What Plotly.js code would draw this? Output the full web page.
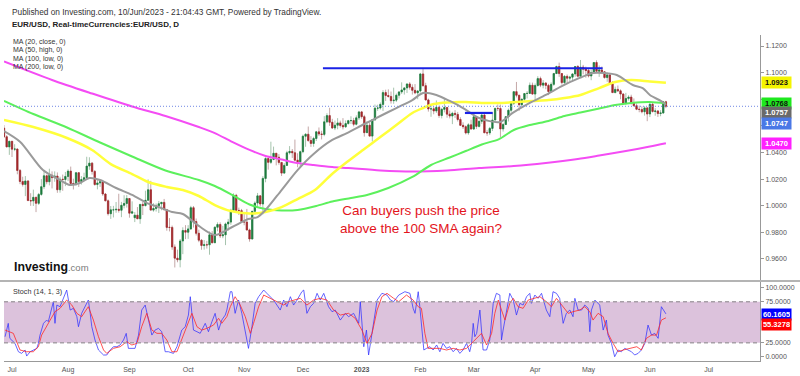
<!DOCTYPE html>
<html><head><meta charset="utf-8">
<script src="https://cdn.plot.ly/plotly-3.0.1.min.js"></script>
<style>html,body{margin:0;padding:0;background:#fff;}#chart{width:800px;height:376px;}</style>
</head><body><div id="chart"></div>
<script>
// trading-day index: 0 = 1 Jul 2022, 239 = 1 Jun 2023, 245 = 9 Jun 2023
const firstIdx = -3;
const openP = [1.0583,1.0518,1.0442,
1.0484,1.0425,1.0426,1.0265,1.0182,1.0160,1.0186,1.0039,1.0036,1.0063,
1.0018,1.0085,1.0143,1.0225,1.0180,1.0229,1.0211,1.0223,1.0120,1.0199,
1.0197,1.0220,1.0260,1.0167,1.0163,1.0248,1.0182,1.0197,1.0211,1.0298,
1.0320,1.0258,1.0159,1.0171,1.0180,1.0088,1.0037,0.9940,0.9969,0.9969,
0.9973,0.9966,1.0003,1.0017,1.0054,0.9944,0.9910,0.9929,0.9902,1.0010,
1.0001,1.0041,1.0120,0.9967,0.9979,0.9999,1.0015,1.0025,0.9970,0.9837,
0.9837,0.9690,0.9606,0.9594,0.9735,0.9814,0.9801,0.9826,0.9985,0.9881,
0.9793,0.9741,0.9701,0.9707,0.9706,0.9781,0.9722,0.9838,0.9859,0.9774,
0.9781,0.9863,0.9877,0.9965,1.0078,0.9965,0.9963,0.9882,0.9877,0.9818,
0.9750,0.9958,1.0020,1.0074,1.0013,1.0205,1.0354,1.0326,1.0348,1.0394,
1.0364,1.0325,1.0245,1.0303,1.0398,1.0408,1.0398,1.0342,1.0330,1.0406,
1.0522,1.0537,1.0490,1.0468,1.0505,1.0555,1.0539,1.0536,1.0630,1.0677,
1.0627,1.0584,1.0605,1.0622,1.0603,1.0593,1.0617,1.0639,1.0640,1.0612,
1.0660,1.0705,1.0669,1.0549,1.0605,1.0523,1.0645,1.0733,1.0734,1.0761,
1.0850,1.0828,1.0821,1.0789,1.0793,1.0830,1.0855,1.0870,1.0885,1.0915,
1.0890,1.0867,1.0848,1.0862,1.0990,1.0902,1.0795,1.0727,1.0728,1.0712,
1.0739,1.0678,1.0724,1.0738,1.0688,1.0674,1.0694,1.0686,1.0648,1.0604,
1.0594,1.0547,1.0608,1.0576,1.0668,1.0596,1.0634,1.0681,1.0548,1.0547,
1.0581,1.0644,1.0731,1.0730,1.0577,1.0610,1.0669,1.0717,1.0770,1.0857,
1.0830,1.0759,1.0800,1.0843,1.0844,1.0905,1.0839,1.0903,1.0955,1.0906,
1.0922,1.0904,1.0858,1.0912,1.0993,1.1046,1.0993,1.0925,1.0972,1.0958,
1.0966,1.0990,1.1046,1.0973,1.1041,1.1026,1.1016,1.0975,1.1000,1.1076,
1.1010,1.1020,1.1006,1.0963,1.0983,1.0915,1.0850,1.0874,1.0863,1.0839,
1.0768,1.0806,1.0816,1.0774,1.0751,1.0725,1.0723,1.0706,1.0735,1.0689,
1.0762,1.0708,1.0712,1.0693,1.0697,1.0781];
const highP = [1.0606,1.0530,1.0488,
1.0486,1.0462,1.0429,1.0276,1.0218,1.0223,1.0192,1.0094,1.0121,1.0068,
1.0096,1.0200,1.0269,1.0234,1.0278,1.0258,1.0258,1.0250,1.0218,1.0234,
1.0254,1.0274,1.0294,1.0203,1.0254,1.0253,1.0223,1.0248,1.0368,1.0364,
1.0328,1.0267,1.0202,1.0201,1.0191,1.0096,1.0047,0.9998,0.9999,1.0028,
1.0090,1.0029,1.0079,1.0080,1.0056,1.0033,0.9952,0.9990,1.0011,1.0030,
1.0113,1.0198,1.0187,1.0019,1.0017,1.0036,1.0029,1.0051,0.9976,0.9907,
0.9851,0.9709,0.9670,0.9750,0.9838,0.9854,0.9854,0.9999,0.9998,0.9904,
0.9820,0.9749,0.9742,0.9736,0.9807,0.9809,0.9846,0.9875,0.9875,0.9849,
0.9873,0.9901,0.9977,1.0093,1.0089,0.9986,0.9976,0.9953,0.9976,0.9828,
0.9960,1.0033,1.0096,1.0080,1.0222,1.0364,1.0361,1.0481,1.0444,1.0396,
1.0388,1.0329,1.0320,1.0413,1.0448,1.0426,1.0497,1.0394,1.0414,1.0534,
1.0545,1.0595,1.0523,1.0518,1.0562,1.0588,1.0563,1.0673,1.0695,1.0736,
1.0653,1.0640,1.0658,1.0639,1.0658,1.0641,1.0645,1.0672,1.0660,1.0679,
1.0713,1.0712,1.0683,1.0634,1.0626,1.0651,1.0760,1.0759,1.0776,1.0868,
1.0872,1.0874,1.0858,1.0887,1.0843,1.0860,1.0927,1.0890,1.0916,1.0929,
1.0912,1.0914,1.0869,1.0998,1.1033,1.0924,1.0805,1.0753,1.0745,1.0791,
1.0752,1.0735,1.0804,1.0741,1.0715,1.0706,1.0718,1.0705,1.0665,1.0627,
1.0603,1.0620,1.0646,1.0691,1.0670,1.0642,1.0694,1.0695,1.0568,1.0592,
1.0702,1.0736,1.0760,1.0760,1.0622,1.0670,1.0730,1.0786,1.0857,1.0930,
1.0833,1.0805,1.0847,1.0861,1.0926,1.0925,1.0918,1.0973,1.0970,1.0944,
1.0928,1.0916,1.0927,1.0998,1.1052,1.1075,1.0995,1.0982,1.0986,1.0976,
1.0994,1.1050,1.1057,1.1095,1.1058,1.1045,1.1032,1.1022,1.1076,1.1092,
1.1054,1.1046,1.1009,1.1000,1.0990,1.0936,1.0895,1.0903,1.0874,1.0846,
1.0848,1.0830,1.0834,1.0806,1.0768,1.0752,1.0746,1.0747,1.0741,1.0779,
1.0779,1.0733,1.0718,1.0718,1.0787,1.0788];
const lowP = [1.0510,1.0440,1.0382,
1.0366,1.0410,1.0236,1.0162,1.0144,1.0072,1.0034,0.9999,0.9998,0.9952,
1.0006,1.0075,1.0125,1.0161,1.0153,1.0130,1.0180,1.0097,1.0098,1.0112,
1.0147,1.0185,1.0160,1.0122,1.0150,1.0141,1.0159,1.0185,1.0198,1.0270,
1.0234,1.0151,1.0123,1.0141,1.0074,1.0034,0.9926,0.9901,0.9912,0.9947,
0.9948,0.9914,0.9980,0.9986,0.9910,0.9942,0.9877,0.9900,0.9864,0.9930,
0.9995,1.0035,0.9966,0.9955,0.9956,0.9945,0.9966,0.9966,0.9812,0.9807,
0.9669,0.9536,0.9575,0.9537,0.9636,0.9749,0.9751,0.9818,0.9836,0.9776,
0.9726,0.9669,0.9670,0.9678,0.9632,0.9717,0.9720,0.9808,0.9758,0.9756,
0.9704,0.9812,0.9857,0.9962,0.9952,0.9930,0.9870,0.9853,0.9813,0.9730,
0.9747,0.9934,0.9996,0.9994,0.9935,1.0176,1.0271,1.0314,1.0342,1.0303,
1.0308,1.0223,1.0240,1.0300,1.0385,1.0359,1.0339,1.0289,1.0290,1.0394,
1.0443,1.0480,1.0442,1.0443,1.0486,1.0524,1.0498,1.0522,1.0620,1.0600,
1.0576,1.0568,1.0574,1.0587,1.0573,1.0585,1.0610,1.0614,1.0596,1.0604,
1.0644,1.0653,1.0519,1.0546,1.0522,1.0483,1.0638,1.0713,1.0722,1.0712,
1.0787,1.0812,1.0767,1.0766,1.0779,1.0806,1.0840,1.0835,1.0847,1.0872,
1.0835,1.0838,1.0800,1.0850,1.0895,1.0791,1.0707,1.0668,1.0687,1.0697,
1.0660,1.0656,1.0701,1.0661,1.0656,1.0613,1.0660,1.0633,1.0600,1.0577,
1.0536,1.0533,1.0575,1.0570,1.0577,1.0588,1.0615,1.0547,1.0525,1.0531,
1.0561,1.0640,1.0711,1.0516,1.0557,1.0609,1.0633,1.0700,1.0757,1.0814,
1.0713,1.0745,1.0788,1.0806,1.0842,1.0835,1.0788,1.0895,1.0891,1.0882,
1.0875,1.0831,1.0849,1.0901,1.0992,1.0968,1.0910,1.0909,1.0914,1.0934,
1.0935,1.0969,1.0964,1.0965,1.0987,1.0962,1.0964,1.0943,1.0989,1.1003,
1.0968,1.0995,1.0955,1.0931,1.0908,1.0847,1.0845,1.0854,1.0800,1.0760,
1.0760,1.0790,1.0760,1.0747,1.0718,1.0702,1.0694,1.0677,1.0635,1.0666,
1.0700,1.0676,1.0667,1.0672,1.0690,1.0733];
const closeP = [1.0518,1.0442,1.0484,
1.0425,1.0426,1.0265,1.0182,1.0160,1.0186,1.0039,1.0036,1.0063,1.0018,
1.0085,1.0143,1.0225,1.0180,1.0229,1.0211,1.0223,1.0120,1.0199,1.0197,
1.0220,1.0260,1.0167,1.0163,1.0248,1.0182,1.0197,1.0211,1.0298,1.0320,
1.0258,1.0159,1.0171,1.0180,1.0088,1.0037,0.9940,0.9969,0.9969,0.9973,
0.9966,1.0003,1.0017,1.0054,0.9944,0.9954,0.9929,0.9902,1.0010,1.0001,
1.0041,1.0120,0.9967,0.9979,0.9999,1.0015,1.0025,0.9970,0.9837,0.9837,
0.9690,0.9606,0.9594,0.9735,0.9814,0.9801,0.9826,0.9985,0.9881,0.9793,
0.9741,0.9701,0.9707,0.9706,0.9781,0.9722,0.9838,0.9859,0.9774,0.9781,
0.9863,0.9877,0.9965,1.0078,0.9965,0.9963,0.9882,0.9877,0.9818,0.9750,
0.9958,1.0020,1.0074,1.0013,1.0205,1.0354,1.0326,1.0348,1.0394,1.0364,
1.0325,1.0245,1.0303,1.0398,1.0408,1.0398,1.0342,1.0330,1.0406,1.0522,
1.0537,1.0490,1.0468,1.0505,1.0555,1.0539,1.0536,1.0630,1.0677,1.0627,
1.0584,1.0605,1.0622,1.0603,1.0593,1.0617,1.0639,1.0640,1.0612,1.0660,
1.0705,1.0669,1.0549,1.0605,1.0523,1.0645,1.0733,1.0734,1.0761,1.0850,
1.0828,1.0821,1.0789,1.0793,1.0830,1.0855,1.0870,1.0885,1.0915,1.0890,
1.0867,1.0848,1.0862,1.0990,1.0902,1.0795,1.0727,1.0728,1.0712,1.0739,
1.0678,1.0724,1.0738,1.0688,1.0674,1.0694,1.0686,1.0648,1.0604,1.0594,
1.0547,1.0608,1.0576,1.0668,1.0596,1.0634,1.0681,1.0548,1.0547,1.0581,
1.0644,1.0731,1.0730,1.0577,1.0610,1.0669,1.0717,1.0770,1.0857,1.0830,
1.0759,1.0800,1.0843,1.0844,1.0905,1.0839,1.0903,1.0955,1.0906,1.0922,
1.0904,1.0858,1.0912,1.0993,1.1046,1.0993,1.0925,1.0972,1.0958,1.0966,
1.0990,1.1046,1.0973,1.1041,1.1026,1.1016,1.0975,1.1000,1.1076,1.1010,
1.1020,1.1006,1.0963,1.0983,1.0915,1.0850,1.0874,1.0863,1.0839,1.0768,
1.0806,1.0816,1.0774,1.0751,1.0725,1.0723,1.0706,1.0735,1.0689,1.0762,
1.0708,1.0712,1.0693,1.0697,1.0781,1.0747];

// moving averages (trading-day index, value)
const ma20Idx = [-3,3,11.6,18,21.7,25.5,29,33,39,45,50.6,55,60,64,70,76,82.5,88.5,92,95,101,107,113,120,125.5,132,138,144,150,154,159,164,169,175,182.8,187.6,194,200,206,212.7,217.6,222,226.6,232.6,236.3,239,243.8,245];
const ma20 = [1.0561,1.0481,1.0268,1.0193,1.0156,1.0171,1.0208,1.0193,1.0133,1.0081,1.0020,0.9990,0.9953,0.9938,0.9848,0.9780,0.9840,0.9900,0.9915,0.9968,1.0118,1.0268,1.0389,1.0494,1.0546,1.0614,1.0674,1.0734,1.0794,1.0847,1.0832,1.0787,1.0734,1.0659,1.0629,1.0697,1.0772,1.0832,1.0899,1.0960,1.0997,1.0997,1.0982,1.0907,1.0884,1.0832,1.0779,1.0757];
const ma50Idx = [-3,8,20.6,30,37,45,51,58,64,70,76,82,89,95,101,107,113.5,119.5,125.5,131.5,138,144.5,150,154,158,163,170,176,182,189,195,201,207,213,220,226,232,239,245];
const ma50 = [1.0644,1.0591,1.0509,1.0419,1.0313,1.0238,1.0178,1.0141,1.0118,1.0073,1.0005,0.9960,0.9942,0.9953,0.9990,1.0050,1.0118,1.0231,1.0328,1.0419,1.0516,1.0614,1.0697,1.0734,1.0764,1.0776,1.0779,1.0772,1.0772,1.0779,1.0787,1.0794,1.0809,1.0832,1.0884,1.0930,1.0945,1.0933,1.0923];
const ma100Idx = [-3,8,20.6,33,45,57.5,70,76,82.5,89,95,101,107,114,120,127,133,141,150,157,164,170,176,182.5,188,194,201,207,213,220,226,232,239,245];
const ma100 = [1.0788,1.0689,1.0588,1.0475,1.0370,1.0265,1.0193,1.0148,1.0081,1.0009,0.9975,0.9964,0.9968,0.9998,1.0032,1.0058,1.0081,1.0133,1.0216,1.0306,1.0362,1.0411,1.0460,1.0501,1.0569,1.0606,1.0637,1.0674,1.0700,1.0730,1.0757,1.0772,1.0779,1.0768];
const ma200Idx = [-3,15,30,45,57.5,70,76,82.5,89,95,101,107,113,120,126,138,150,163,175,188,200,212,220,230,239,245];
const ma200 = [1.1084,1.0945,1.0843,1.0745,1.0674,1.0591,1.0546,1.0479,1.0419,1.0374,1.0347,1.0321,1.0306,1.0291,1.0283,1.0265,1.0257,1.0265,1.0283,1.0298,1.0321,1.0351,1.0377,1.0411,1.0445,1.0470];

// drawn horizontal levels
const resX = [116.5, 221.3], resY = [1.1033, 1.1033];
const supX = [169.7, 180.1], supY = [1.0697, 1.0697];

// Stochastic (14,1,3)
const kIdx = [-2.6,-1.4,-0.8,1.1,2.4,3.6,4.9,5.5,6.8,8.0,
9.3,9.9,10.5,11.8,13.0,13.6,14.3,15.5,16.1,16.8,
18.0,19.3,20.5,21.8,23.0,24.3,24.9,26.1,27.4,28.6,
29.3,29.9,31.1,32.4,34.3,35.5,36.8,38.0,39.3,40.5,
41.8,42.8,43.6,44.9,46.1,47.4,48.6,49.9,51.1,52.4,
53.6,54.9,56.1,57.4,58.6,60.5,61.8,63.6,64.9,66.1,
66.8,68.0,69.3,70.5,72.4,73.6,74.9,76.1,77.4,78.6,
79.9,80.5,81.8,82.4,83.6,84.9,86.1,87.4,88.6,89.9,
91.1,92.4,94.3,95.5,96.8,98.0,100.5,101.8,103.0,104.3,
105.5,106.8,108.6,109.3,110.5,111.8,113.0,114.3,115.5,116.8,
118.6,119.9,121.1,123.0,124.9,126.1,128.0,129.9,130.5,131.8,
132.8,133.6,134.3,135.5,136.8,138.6,140.5,141.8,143.0,144.9,
147.2,149.1,150.3,151.0,152.2,152.8,153.4,154.3,155.3,156.6,
157.8,159.1,160.3,161.5,162.8,164.0,165.3,166.5,167.8,169.0,
170.3,171.5,172.2,172.8,173.4,174.1,175.3,175.9,176.5,177.8,
179.0,180.3,181.5,182.8,183.4,184.0,185.3,186.5,187.8,189.0,
190.3,191.5,192.8,194.0,194.6,195.9,197.1,198.4,200.2,201.5,
202.7,204.0,205.2,206.5,207.7,209.0,210.2,210.9,212.1,213.4,
214.6,215.9,216.5,217.1,218.4,220.2,221.5,222.7,223.3,224.6,
225.8,227.1,228.3,229.6,230.8,232.1,233.3,234.6,235.8,237.1,
238.3,239.6,240.8,242.1,243.3,245];
const kVal = [32.3,48.6,30.3,24.2,14.0,12.0,16.1,8.7,14.0,16.1,
18.1,24.2,34.3,48.6,52.6,50.6,60.8,75.0,48.6,70.9,
68.9,79.1,89.2,64.8,66.9,56.7,44.5,60.8,68.9,77.0,
60.8,44.5,28.3,16.1,10.0,10.0,16.1,20.1,20.1,22.2,
28.3,36.4,18.1,18.1,18.1,34.3,64.8,70.9,52.6,34.3,
40.4,42.5,38.4,14.0,14.0,12.0,20.1,40.4,44.5,58.7,
81.1,40.4,38.4,36.4,48.6,38.4,50.6,60.8,40.4,52.6,
58.7,64.8,87.2,87.2,60.8,77.0,60.8,40.4,18.1,44.5,
73.0,81.1,89.2,85.2,81.1,77.0,64.8,77.0,68.9,81.1,
70.9,77.0,87.2,89.2,60.8,68.9,73.0,85.2,77.0,85.2,
68.9,62.8,64.8,52.6,60.8,56.7,60.8,48.6,75.0,20.1,
40.4,10.0,24.2,52.6,77.0,85.2,83.1,77.0,75.0,83.1,
87.2,85.2,66.9,60.8,87.2,68.9,48.6,16.1,18.1,20.1,
16.1,22.2,14.0,24.2,18.1,20.1,14.0,18.1,12.0,16.1,
24.2,14.0,24.2,48.6,32.3,36.4,64.8,40.4,16.1,16.1,
28.3,73.0,85.2,83.1,28.3,40.4,64.8,85.2,77.0,58.7,
73.0,70.9,81.1,85.2,73.0,83.1,79.1,85.2,64.8,56.7,
87.2,85.2,79.1,48.6,60.8,64.8,56.7,79.1,64.8,64.8,
70.9,66.9,38.4,64.8,77.0,70.9,40.4,52.6,34.3,24.2,
7.9,16.1,14.0,18.1,16.1,14.0,10.0,12.0,16.1,24.2,
46.5,34.3,36.4,30.3,68.9,60.1605];
const dIdx = [-2.6,0.5,3.0,5.5,8.0,9.9,11.1,13.0,14.3,16.1,
18.0,20.5,22.4,24.3,26.1,28.6,30.5,32.4,34.3,35.5,
38.0,40.5,43.0,44.9,46.8,48.6,50.5,52.4,54.3,56.1,
58.0,59.9,61.8,63.6,65.5,67.4,69.3,71.1,73.0,75.5,
77.4,78.6,80.5,81.8,83.6,85.5,87.4,89.3,90.5,92.4,
94.3,96.8,99.3,101.8,103.6,105.5,108.0,110.5,113.0,115.5,
118.0,120.5,123.0,126.1,128.6,131.1,133.0,134.9,136.8,138.6,
140.5,143.0,144.9,147.8,150.3,152.2,153.4,154.7,155.9,157.8,
160.3,162.8,165.3,167.8,170.3,172.8,174.7,175.9,177.8,179.7,
180.9,182.2,183.4,184.7,186.5,187.8,189.6,191.5,193.4,195.3,
197.8,200.2,202.1,204.0,206.5,208.4,210.2,212.7,214.6,216.5,
217.7,219.6,221.5,223.3,225.2,227.1,229.0,231.5,234.1,235.8,
237.7,239.6,241.5,243.3,245];
const dVal = [40.4,36.4,16.1,14.0,14.0,20.1,34.3,44.5,52.6,62.8,
66.9,77.0,70.9,60.8,56.7,68.9,52.6,32.3,16.1,12.0,
18.1,20.1,26.2,22.2,24.2,44.5,60.8,40.4,36.4,36.4,
28.3,14.0,14.0,28.3,44.5,60.8,44.5,40.4,42.5,46.5,
54.7,48.6,56.7,68.9,81.1,70.9,56.7,36.4,48.6,68.9,
83.1,79.1,75.0,70.9,75.0,77.0,79.1,70.9,77.0,79.1,
77.0,64.8,58.7,60.8,54.7,40.4,24.2,36.4,64.8,81.1,
85.2,79.1,75.0,83.1,77.0,68.9,66.9,36.4,18.1,18.1,
18.1,16.1,18.1,16.1,18.1,26.2,32.3,36.4,22.2,36.4,
60.8,77.0,64.8,52.6,73.0,79.1,68.9,66.9,77.0,79.1,
81.1,75.0,68.9,79.1,68.9,60.8,62.8,64.8,68.9,62.8,
52.6,60.8,56.7,36.4,24.2,14.0,16.1,18.1,20.1,16.1,
30.3,34.3,34.3,52.6,55.3278];

const monthTickIdx = [0,21,44,66,87,109,131,153,173,196,216,239,261];
const monthTickText = ['Jul','Aug','Sep','Oct','Nov','Dec','<b>2023</b>','Feb','Mar','Apr','May','Jun','Jul'];
const priceTicks = [0.96,0.98,1.00,1.02,1.04,1.06,1.08,1.10,1.12];
// 1.0600 and 1.0800 sit under the value tags in the original, so their labels are not shown
const priceTickText = ['0.9600','0.9800','1.0000','1.0200','1.0400','','','1.1000','1.1200'];
const stochTickVals = [7.6,25,75,92.6];
const stochTickText = ['0.0000','25.0000','75.0000','100.0000'];
const maLegend = ['MA (20, close, 0)','MA (50, high, 0)','MA (100, low, 0)','MA (200, low, 0)'];

// ---------- build ----------
const xIdx = closeP.map((_, i) => firstIdx + i);
const bodyHi = openP.map((o, i) => Math.max(o, closeP[i]));
const bodyLo = openP.map((o, i) => Math.min(o, closeP[i]));
const last = a => a[a.length - 1];

const L = 4, W = 756, T = 35, H = 326;
const px = v => (v - L) / W;
const py = v => (T + H - v) / H;

const traces = [
  {type:'candlestick', x:xIdx, open:openP, high:highP, low:lowP, close:closeP, xaxis:'x', yaxis:'y',
   increasing:{line:{color:'#a6c4ae', width:1}, fillcolor:'#a6c4ae'},
   decreasing:{line:{color:'#c4a7a7', width:1}, fillcolor:'#c4a7a7'},
   whiskerwidth:0, hoverinfo:'skip', showlegend:false},
  {type:'candlestick', x:xIdx, open:openP, high:bodyHi, low:bodyLo, close:closeP, xaxis:'x', yaxis:'y',
   increasing:{line:{color:'#1b7a3d', width:0.6}, fillcolor:'#1b7a3d'},
   decreasing:{line:{color:'#a3262a', width:0.6}, fillcolor:'#a3262a'},
   whiskerwidth:0, hoverinfo:'skip', showlegend:false},
  {type:'scatter', mode:'lines', x:ma200Idx, y:ma200, line:{color:'#f44cf4', width:2, shape:'spline', smoothing:0.8}, xaxis:'x', yaxis:'y', hoverinfo:'skip'},
  {type:'scatter', mode:'lines', x:ma100Idx, y:ma100, line:{color:'#5cf05c', width:2, shape:'spline', smoothing:0.8}, xaxis:'x', yaxis:'y', hoverinfo:'skip'},
  {type:'scatter', mode:'lines', x:ma50Idx, y:ma50, line:{color:'#ffff3a', width:2.5, shape:'spline', smoothing:0.8}, xaxis:'x', yaxis:'y', hoverinfo:'skip'},
  {type:'scatter', mode:'lines', x:ma20Idx, y:ma20, line:{color:'#9a9a9a', width:2, shape:'spline', smoothing:0.8}, xaxis:'x', yaxis:'y', hoverinfo:'skip'},
  {type:'scatter', mode:'lines', x:resX, y:resY, line:{color:'#1a22e6', width:2.2}, xaxis:'x', yaxis:'y', hoverinfo:'skip'},
  {type:'scatter', mode:'lines', x:supX, y:supY, line:{color:'#1a22e6', width:2.2}, xaxis:'x', yaxis:'y', hoverinfo:'skip'},
  {type:'scatter', mode:'lines', x:kIdx, y:kVal, line:{color:'rgba(50,50,255,0.75)', width:1}, xaxis:'x', yaxis:'y2', hoverinfo:'skip'},
  {type:'scatter', mode:'lines', x:dIdx, y:dVal, line:{color:'rgba(255,40,40,0.8)', width:1}, xaxis:'x', yaxis:'y2', hoverinfo:'skip'}
];

const tagFont = (c) => ({family:'Arial, Liberation Sans', size:7.5, color:c});
function tag(v, axis, bg, fg, shift) {
  return {xref:'paper', x:1, xanchor:'left', xshift:1, yref:axis, y:v, yanchor:'middle', yshift:shift,
    text:'<b>' + v.toFixed(4) + '</b>', showarrow:false, bgcolor:bg, font:tagFont(fg), borderpad:1, width:27, align:'center'};
}
function txt(x, y, t, size, color, anchor) {
  return {xref:'paper', yref:'paper', x:px(x), y:py(y), xanchor:anchor||'left', yanchor:'middle', text:t, showarrow:false,
    font:{family:'Arial, Liberation Sans', size:size, color:color||'#222'}};
}

const annotations = [
  txt(10, 12, 'Published on Investing.com, 10/Jun/2023 - 21:04:43 GMT, Powered by TradingView.', 8.3, '#333'),
  txt(10, 25, '<b>EUR/USD, Real-timeCurrencies:EUR/USD, D</b>', 8, '#222'),
  txt(11, 291, 'Stoch (14, 1, 3)', 7.2, '#333'),
  txt(12, 267, '<b>Investing</b><span style="font-size:9.5px;color:#7a7a7a">.com</span>', 12.3, '#111'),
  {xref:'x', yref:'y', x:153.2, y:0.9893, text:'Can buyers push the price<br>above the 100 SMA again?', showarrow:false,
   font:{family:'Arial, Liberation Sans', size:13.5, color:'#e3141c'}, align:'center'},
  tag(last(ma50), 'y', '#f4f400', '#111', 0),
  tag(last(ma100), 'y', '#1ee81e', '#111', 0),
  tag(last(ma20), 'y', '#6a6a6a', '#fff', -8),
  tag(last(closeP), 'y', '#4a78e6', '#fff', -17),
  tag(last(ma200), 'y', '#ff20ff', '#fff', 0),
  tag(last(kVal), 'y2', '#0000ff', '#fff', -1),
  tag(last(dVal), 'y2', '#ff0000', '#fff', -7)
];
maLegend.forEach((t, i) => annotations.push(txt(11, 42 + 8.3 * i, t, 7, '#333')));

const shapes = [
  {type:'rect', xref:'paper', yref:'y2', x0:0, x1:1, y0:25, y1:75, fillcolor:'#dcc2dc', line:{width:0}, layer:'below'},
  {type:'line', xref:'paper', yref:'y2', x0:0, x1:1, y0:75, y1:75, line:{color:'#a79fa7', width:1.5, dash:'4px,3px'}},
  {type:'line', xref:'paper', yref:'y2', x0:0, x1:1, y0:25, y1:25, line:{color:'#a79fa7', width:1.5, dash:'4px,3px'}},
  {type:'line', xref:'paper', yref:'y', x0:0, x1:1, y0:last(closeP), y1:last(closeP), line:{color:'#6f86e4', width:1, dash:'1px,2px'}},
  {type:'line', xref:'paper', yref:'paper', x0:px(0), x1:px(800), y0:py(281), y1:py(281), line:{color:'#b4b4b4', width:2}}
];

const axFont = {family:'Arial, Liberation Sans', size:7, color:'#555'};
const layout = {
  width:800, height:376,
  margin:{l:L, r:800 - L - W, t:T, b:376 - T - H, pad:0},
  paper_bgcolor:'#ffffff', plot_bgcolor:'#ffffff', showlegend:false,
  xaxis:{range:[(L - 12) / 2.669, (L + W - 12) / 2.669], anchor:'y2', tickmode:'array', tickvals:monthTickIdx, ticktext:monthTickText,
    ticks:'outside', ticklen:2, tickcolor:'rgba(0,0,0,0)', showgrid:false, zeroline:false, showline:true, linecolor:'#999', linewidth:1,
    tickfont:axFont, rangeslider:{visible:false}, fixedrange:true},
  yaxis:{domain:[py(281), 1], range:[1.12 - (281 - 46) / 1331, 1.12 + (46 - T) / 1331], side:'right', anchor:'x',
    tickmode:'array', tickvals:priceTicks, ticktext:priceTickText, ticks:'outside', ticklen:3, tickcolor:'#999',
    showline:true, linecolor:'#999', linewidth:1, showgrid:false, zeroline:false, tickfont:axFont, fixedrange:true},
  yaxis2:{domain:[0, py(281)], range:[2.68, 100.24], side:'right', anchor:'x', tickmode:'array', tickvals:stochTickVals, ticktext:stochTickText,
    ticks:'outside', ticklen:3, tickcolor:'#999', showline:true, linecolor:'#999', linewidth:1, showgrid:false, zeroline:false, tickfont:axFont, fixedrange:true},
  shapes:shapes, annotations:annotations
};

Plotly.newPlot('chart', traces, layout, {staticPlot:true, displayModeBar:false});
</script></body></html>
